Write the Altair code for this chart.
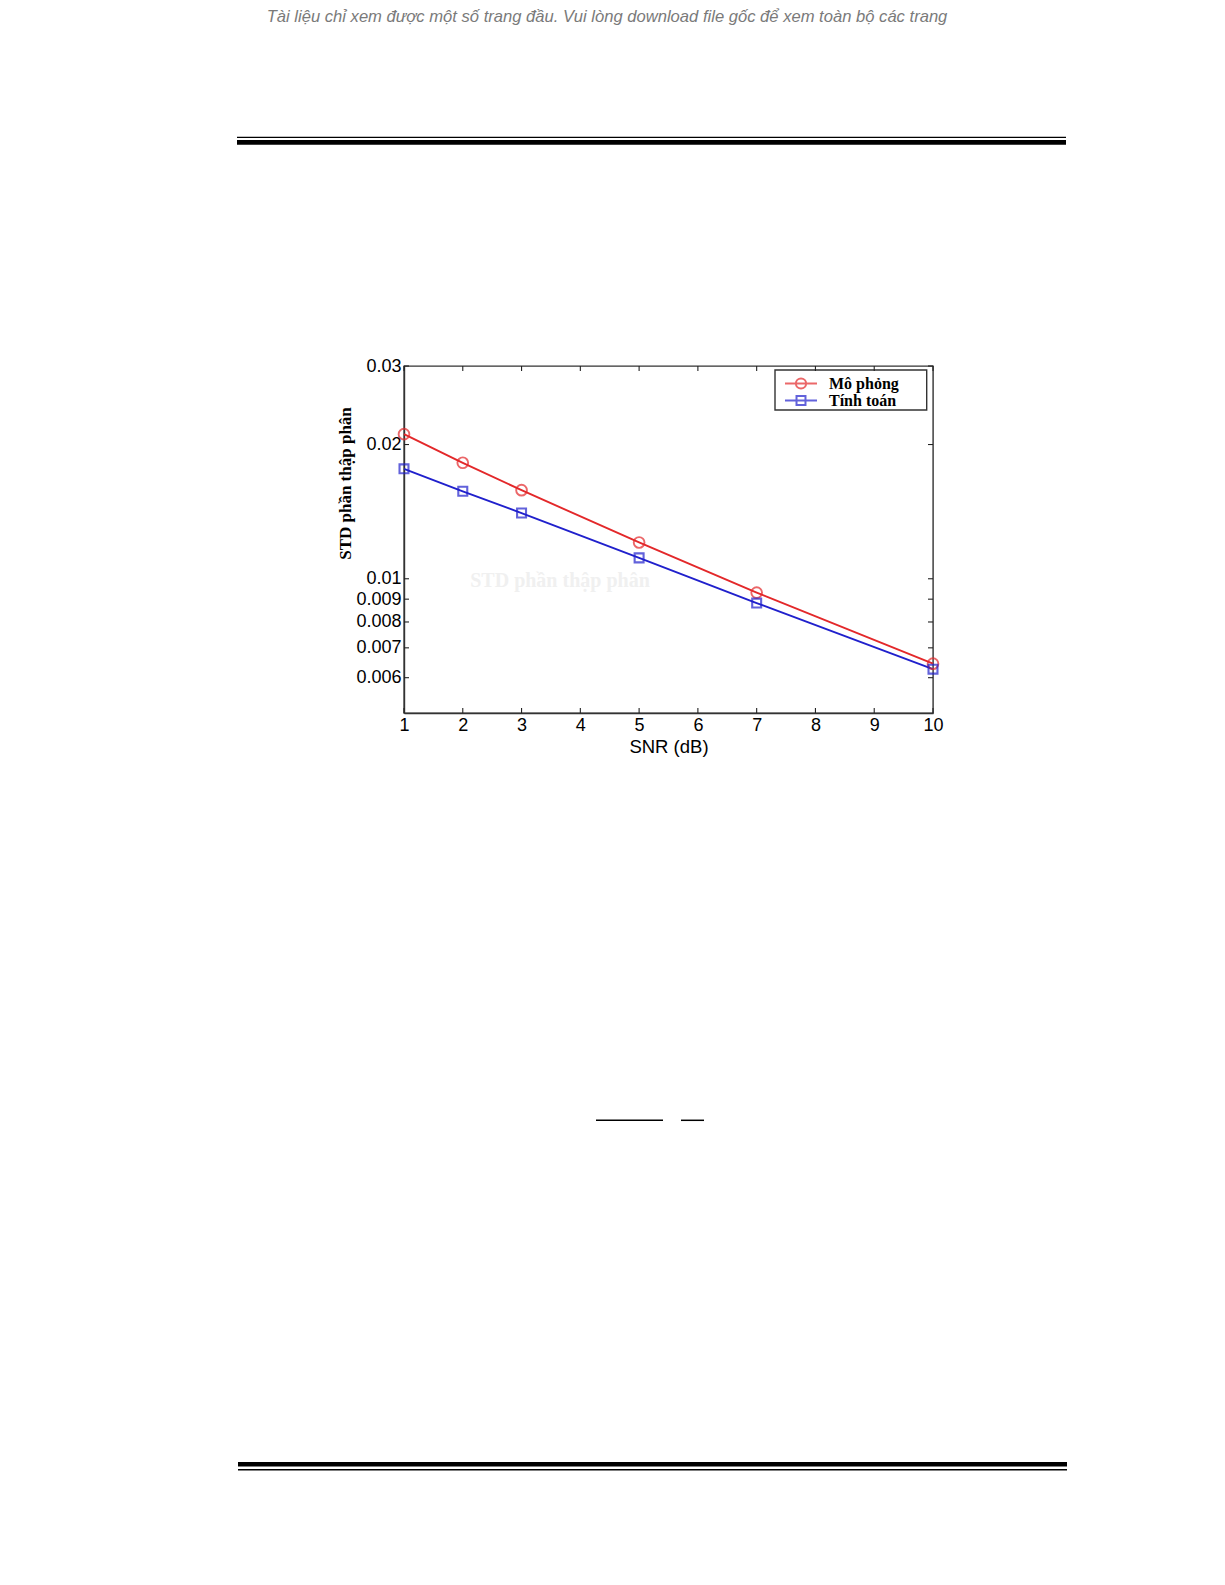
import altair as alt
import pandas as pd

# ---- data ----
SNR = [1, 2, 3, 5, 7, 10]
MO_PHONG = [0.0211, 0.0182, 0.0158, 0.01206, 0.00931, 0.00645]
TINH_TOAN = [0.01764, 0.01571, 0.01404, 0.01114, 0.00882, 0.00627]
SERIES = ["Mô phỏng", "Tính toán"]
COLORS = ["#e3282a", "#2020cc"]
X_TICKS = [1, 2, 3, 4, 5, 6, 7, 8, 9, 10]
Y_TICKS = [0.006, 0.007, 0.008, 0.009, 0.01, 0.02, 0.03]
X_TITLE = "SNR (dB)"
Y_TITLE = "STD phần thập phân"
HEADER = "Tài liệu chỉ xem được một số trang đầu. Vui lòng download file gốc để xem toàn bộ các trang"

W, H = 529, 347

df = pd.DataFrame({
    "snr": SNR + SNR,
    "std": MO_PHONG + TINH_TOAN,
    "series": [SERIES[0]] * len(SNR) + [SERIES[1]] * len(SNR),
})
one = pd.DataFrame({"k": [0]})
xt = pd.DataFrame({"snr": X_TICKS})
yt = pd.DataFrame({"std": Y_TICKS})

xscale = alt.Scale(domain=[1, 10], nice=False, zero=False)
yscale = alt.Scale(type="log", domain=[0.005, 0.03], nice=False)

X_AXIS = alt.Axis(values=X_TICKS, title=X_TITLE, format="d", ticks=False,
                  grid=False, labelPadding=3, titlePadding=3, labelFlush=False,
                  titleFont="Liberation Sans", titleFontWeight="normal",
                  titleFontSize=18.5, titleColor="black")
Y_AXIS = alt.Axis(values=Y_TICKS, title=Y_TITLE, format="~g", ticks=False,
                  grid=False, labelPadding=3, labelFlush=False,
                  titleFont="Liberation Serif", titleFontWeight="bold",
                  titleFontSize=17, titleColor="black",
                  titleX=-59, titleY=117, titleAlign="center",
                  titleBaseline="middle")
X = alt.X("snr:Q", scale=xscale, axis=X_AXIS)
Y = alt.Y("std:Q", scale=yscale, axis=Y_AXIS)

base = alt.Chart(df)
red = base.transform_filter(alt.datum.series == SERIES[0])
blue = base.transform_filter(alt.datum.series == SERIES[1])

line_r = red.mark_line(strokeWidth=1.9, color=COLORS[0]).encode(x=X, y=Y)
line_b = blue.mark_line(strokeWidth=1.9, color=COLORS[1]).encode(x=X, y=Y)
circles = red.mark_point(
    shape="circle", filled=False, size=115, strokeWidth=1.9, color=COLORS[0]
).encode(x=X, y=Y)
squares = blue.mark_point(
    shape="square", filled=False, size=80, strokeWidth=2.1, color=COLORS[1]
).encode(x=X, y=Y)

CIRCLE_SYM = "M-2.5,0L2.5,0M0.8,0A0.8,0.8,0,1,1,-0.8,0A0.8,0.8,0,1,1,0.8,0"
SQUARE_SYM = "M-2.5,0L2.5,0M-0.7,-0.7L0.7,-0.7L0.7,0.7L-0.7,0.7Z"

leg = dict(title=None, orient="none", legendX=371, legendY=5,
           labelFont="Liberation Serif", labelFontWeight="bold", labelFontSize=16,
           labelColor="black",
           padding=5, rowPadding=0, clipHeight=15, symbolOffset=13, labelOffset=20,
           symbolStrokeWidth=2, symbolSize=164)

legend_layer = base.transform_filter("false").mark_point(
    filled=False, size=164, strokeWidth=2
).encode(
    color=alt.Color("series:N", scale=alt.Scale(domain=SERIES, range=COLORS),
                    legend=alt.Legend(**leg)),
    shape=alt.Shape("series:N", scale=alt.Scale(domain=SERIES, range=[CIRCLE_SYM, SQUARE_SYM]),
                    legend=alt.Legend(**leg)),
)

# legend frame
legend_box = alt.Chart(one).mark_rect(
    fill="white", stroke="#333333", strokeWidth=1.4
).encode(x=alt.value(371), x2=alt.value(522.7), y=alt.value(4), y2=alt.value(44))

# inward tick marks on all four sides
tk = dict(color="#222222", strokeWidth=1.1)
xb = alt.Chart(xt).mark_rule(**tk).encode(x=X, y=alt.value(H - 5), y2=alt.value(H))
xtop = alt.Chart(xt).mark_rule(**tk).encode(x=X, y=alt.value(0), y2=alt.value(5))
yl = alt.Chart(yt).mark_rule(**tk).encode(y=Y, x=alt.value(0), x2=alt.value(5))
yr = alt.Chart(yt).mark_rule(**tk).encode(y=Y, x=alt.value(W - 5), x2=alt.value(W))

# page decorations
def hrule(yv, x1, x2, sw):
    return alt.Chart(one).mark_rule(color="black", strokeWidth=sw).encode(
        x=alt.value(x1), x2=alt.value(x2), y=alt.value(yv))

deco = [
    hrule(-228.7, -167, 662, 1.2),
    hrule(-223.7, -167, 662, 4.7),
    hrule(1098.3, -166, 663, 4.6),
    hrule(1103.7, -166, 663, 1.4),
    hrule(754.3, 192, 259, 1.5),
    hrule(754.3, 277, 300, 1.5),
]

header = alt.Chart(one).mark_text(
    text=HEADER, font="Liberation Sans", fontStyle="italic", fontSize=16.6,
    color="#7a7a7a", align="center", baseline="middle"
).encode(x=alt.value(203), y=alt.value(-348.8))

watermark = alt.Chart(one).mark_text(
    text=Y_TITLE, font="Liberation Serif", fontWeight="bold", fontSize=20,
    color="#f0f0f0", align="center", baseline="middle"
).encode(x=alt.value(156), y=alt.value(215))

chart = alt.layer(
    watermark, legend_box, line_r, line_b, circles, squares, legend_layer,
    xb, xtop, yl, yr, header, *deco
).properties(
    width=W, height=H,
    autosize=alt.AutoSizeParams(type="none"),
    padding={"left": 396, "top": 358, "right": 284, "bottom": 864},
    background="white",
).configure_view(
    stroke="#333333", strokeWidth=1.4
).configure_axis(
    domainColor="#333333", domainWidth=1.4,
    labelFont="Liberation Sans", labelFontSize=18, labelColor="black",
)

chart.save("out.html", embed_options={"renderer": "svg", "actions": False})
